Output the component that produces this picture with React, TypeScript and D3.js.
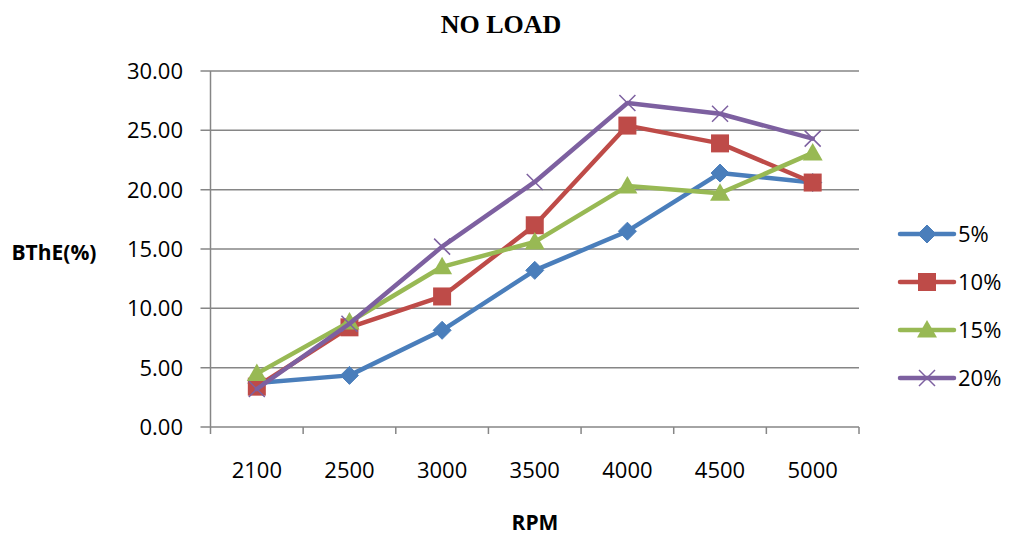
import React from "react";
import * as d3 from "d3";

const categories = ["2100", "2500", "3000", "3500", "4000", "4500", "5000"];
const s5 = [3.7, 4.35, 8.15, 13.2, 16.5, 21.4, 20.6];
const s10 = [3.4, 8.4, 11.0, 17.0, 25.4, 23.9, 20.6];
const s15 = [4.5, 8.85, 13.5, 15.6, 20.3, 19.7, 23.1];
const s20 = [3.2, 8.7, 15.2, 20.65, 27.3, 26.4, 24.3];
const seriesNames = ["5%", "10%", "15%", "20%"];
const yTicks = [0, 5, 10, 15, 20, 25, 30];

const colors = ["#4a7ebb", "#be4b48", "#98b954", "#7d60a0"];
const shapes = ["diamond", "square", "triangle", "x"];

const W = 1009, H = 537;
const L = 210.5, R = 859, T = 71, B = 427;

function Marker({ shape, x, y, color }: { shape: string; x: number; y: number; color: string }) {
  if (shape === "diamond") {
    const s = 9;
    return <path d={`M${x},${y - s}L${x + s},${y}L${x},${y + s}L${x - s},${y}Z`} fill={color} stroke={color} strokeWidth={1} strokeLinejoin="round" />;
  }
  if (shape === "square") {
    const s = 9;
    return <rect x={x - s} y={y - s} width={2 * s} height={2 * s} fill={color} />;
  }
  if (shape === "triangle") {
    const s = 10;
    return <path d={`M${x},${y - s}L${x + s},${y + s * 0.75}L${x - s},${y + s * 0.75}Z`} fill={color} />;
  }
  const s = 8;
  return <path d={`M${x - s},${y - s}L${x + s},${y + s}M${x - s},${y + s}L${x + s},${y - s}`} stroke={color} strokeWidth={1.5} fill="none" />;
}

export default function App() {
  const x = d3.scaleBand<string>().domain(categories).range([L, R]).padding(0);
  const y = d3.scaleLinear().domain([0, 30]).range([B, T]);
  const data = [s5, s10, s15, s20];
  const cx = (c: string) => (x(c) as number) + x.bandwidth() / 2;
  const line = d3.line<number>().x((_, i) => cx(categories[i])).y((d) => y(d));
  const axisColor = "#868686";
  const font = "'Open Sans', sans-serif";
  const legendY = [234, 282, 330, 378];

  return (
    <svg width={W} height={H} style={{ position: "absolute", left: 0, top: 0, background: "#fff" }}>
      <text x={501} y={33} textAnchor="middle" fontFamily="'Liberation Serif', serif" fontWeight="bold" fontSize={26}>NO LOAD</text>
      {yTicks.map((t) => (
        <g key={t}>
          <line x1={L - 10} x2={R} y1={y(t)} y2={y(t)} stroke={axisColor} strokeWidth={1.5} />
          <text x={183} y={y(t)} dy="0.36em" textAnchor="end" fontFamily={font} fontSize={22} fill="#000">{t.toFixed(2)}</text>
        </g>
      ))}
      <line x1={L} x2={L} y1={T} y2={B} stroke={axisColor} strokeWidth={1.5} />
      {categories.concat([""]).map((c, i) => {
        const xx = i < categories.length ? (x(c) as number) : R;
        return <line key={i} x1={xx} x2={xx} y1={B} y2={B + 7} stroke={axisColor} strokeWidth={1.5} />;
      })}
      {categories.map((c) => (
        <text key={c} x={cx(c)} y={470} dy="0.36em" textAnchor="middle" fontFamily={font} fontSize={22} fill="#000">{c}</text>
      ))}
      <text x={54} y={252} dy="0.36em" textAnchor="middle" fontFamily={font} fontWeight="bold" fontSize={21}>BThE(%)</text>
      <text x={535} y={522} dy="0.36em" textAnchor="middle" fontFamily={font} fontWeight="bold" fontSize={21}>RPM</text>
      {data.map((d, si) => (
        <g key={si}>
          <path d={line(d) || ""} fill="none" stroke={colors[si]} strokeWidth={4.5} strokeLinejoin="round" strokeLinecap="round" />
          {d.map((v, i) => (
            <Marker key={i} shape={shapes[si]} x={cx(categories[i])} y={y(v)} color={colors[si]} />
          ))}
        </g>
      ))}
      {seriesNames.map((n, si) => (
        <g key={n}>
          <line x1={900} x2={954} y1={legendY[si]} y2={legendY[si]} stroke={colors[si]} strokeWidth={4.5} strokeLinecap="round" />
          <Marker shape={shapes[si]} x={927} y={legendY[si]} color={colors[si]} />
          <text x={958} y={legendY[si]} dy="0.36em" fontFamily={font} fontSize={22} fill="#000">{n}</text>
        </g>
      ))}
    </svg>
  );
}
